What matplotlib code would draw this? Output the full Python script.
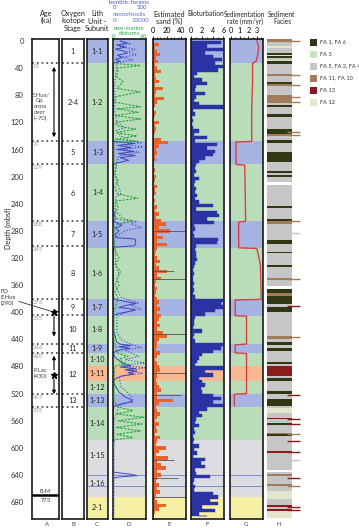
import matplotlib
matplotlib.use('Agg')
import matplotlib.pyplot as plt
import numpy as np
from matplotlib.ticker import MultipleLocator
from matplotlib.patches import Rectangle

plt.rcParams['font.family'] = ['Lato', 'DejaVu Sans']

# ---- data ----
unit_labels = ['1-1', '1-2', '1-3', '1-4', '1-5', '1-6', '1-7', '1-8', '1-9', '1-10',
               '1-11', '1-12', '1-13', '1-14', '1-15', '1-16', '2-1']
unit_top = [-3, 32, 148, 182, 266, 305, 381, 405, 447, 460, 479, 502, 520, 540, 588, 638, 673]
unit_bot = [32, 148, 182, 266, 305, 381, 405, 447, 460, 479, 502, 520, 540, 588, 638, 673, 705]
unit_kind = ['b', 'g', 'b', 'g', 'b', 'g', 'b', 'g', 'b', 'g', 'o', 'g', 'b', 'g', 'x', 'x', 'y']
unit_label_depth = [16, 90, 165, 224, 285, 343, 393, 426, 453, 470, 490, 511, 530, 564, 612, 652, 688]
thin_blue_depth = [641, 657]

age_depth = [32, 148, 182, 266, 303, 381, 404, 447, 460, 521, 540]
age_label = ['13', '70', '129', '188', '245', '276', '335', '366', '420', '467', '535']
stage_label = ['1', '2-4', '5', '6', '7', '8', '9', '10', '11', '12', '13']
stage_depth = [16, 90, 165, 225, 285, 343, 393, 426, 453, 492, 530]

benthic_depth = [0, 3, 6, 9, 12, 15, 18, 21, 24, 27, 30, 32, 40, 100, 146,
                 148, 151, 154, 157, 160, 163, 166, 169, 172, 176, 180, 182, 200, 250, 262, 266,
                 268, 272, 276, 280, 286, 290, 292, 298, 302, 304, 306, 340, 378,
                 381, 384, 387, 390, 393, 396, 399, 402, 405, 425, 444,
                 447, 449, 451, 453, 455, 458, 460, 466, 470, 475,
                 479, 481, 483, 485, 487, 489, 491, 494, 497, 500, 502, 506, 512, 518,
                 521, 525, 528, 532, 535, 538, 540, 560, 600, 636, 639, 641, 643, 645, 690, 700]
benthic_val = [120, 230, 60, 210, 40, 190, 230, 70, 160, 40, 120, 10, 5, 5, 5,
               20, 360, 80, 300, 60, 350, 90, 370, 120, 260, 60, 10, 5, 10, 40, 10,
               60, 150, 40, 100, 30, 60, 370, 380, 360, 40, 5, 5, 10,
               30, 200, 380, 220, 100, 370, 260, 80, 10, 5, 60,
               120, 300, 100, 280, 150, 40, 10, 30, 80, 150,
               300, 120, 380, 200, 400, 250, 350, 150, 60, 20, 10, 20, 60, 100,
               150, 200, 280, 330, 150, 40, 10, 5, 5, 5, 300, 400, 100, 5, 5, 5]

nanno_depth = [0, 4, 8, 12, 16, 20, 24, 28, 32, 60, 100, 120, 128, 132, 140, 146,
               150, 153, 156, 160, 164, 170, 178, 200, 225, 230, 250, 262, 266, 270, 275, 280,
               290, 300, 330, 345, 360, 378, 382, 386, 390, 395, 400, 405, 430, 440, 447,
               452, 456, 465, 470, 475, 478, 482, 486, 490, 495, 510, 520, 530, 538,
               560, 620, 700]
nanno_val = [4000, 9000, 3000, 11000, 7000, 12000, 5000, 10000, 2000, 1000, 800, 2000, 6000,
             1500, 4000, 8000, 14000, 6000, 15000, 5000, 13000, 3000, 2000, 1000, 4000, 1500,
             1000, 5000, 12000, 9000, 14000, 6000, 1000, 800, 1500, 3000, 1000, 4000, 8000,
             13000, 9000, 14000, 7000, 2000, 2000, 4000, 9000, 14000, 6000, 13000, 6000,
             16000, 4000, 16000, 8000, 15000, 3000, 4000, 8000, 10000, 3000, 500, 500, 500]

diatom_depth = [0, 30, 33, 36, 40, 45, 52, 60, 70, 75, 82, 90, 97, 100, 105, 110, 115, 120,
                125, 130, 135, 140, 145, 148, 150, 180, 185, 195, 205, 215, 225, 232, 236,
                245, 255, 262, 266, 270, 275, 300, 310, 320, 330, 340, 350, 360, 370, 380,
                400, 440, 460, 465, 470, 475, 480, 530, 540, 545, 550, 555, 560, 565, 570,
                575, 580, 585, 588, 600, 700]
diatom_val = [0, 0, 2, 55, 8, 10, 6, 20, 8, 54, 6, 3, 55, 8, 50, 5, 55, 4, 8, 45, 6, 48, 4,
              50, 2, 2, 6, 3, 10, 4, 8, 50, 5, 10, 4, 6, 40, 10, 2, 2, 5, 12, 4, 15, 8, 12,
              4, 10, 2, 2, 8, 30, 10, 25, 3, 2, 10, 40, 8, 62, 10, 58, 6, 55, 8, 40, 3, 0, 0]

sand_depth = list(range(0, 705, 5))
sand_pct = [2, 8, 3, 6, 10, 4, 7,
            3, 5, 12, 3, 4, 9, 3, 14, 4, 3, 16, 5, 3, 2, 4, 3, 2, 8, 3, 4, 3, 2, 12,
            22, 8, 4, 6, 3, 4, 2,
            2, 3, 2, 4, 3, 2, 6, 3, 4, 2, 3, 2, 5, 3, 8, 4, 12,
            18, 8, 24, 6, 14, 5, 20,
            6, 4, 3, 5, 10, 4, 8, 20, 6, 12, 4, 3, 5, 4, 3, 6,
            8, 5, 10, 6,
            12, 8, 5, 10, 6, 14, 20, 8, 5,
            6, 4, 10, 5, 3, 6,
            8, 10, 5, 6, 4,
            6, 8, 12, 5,
            6, 28, 8, 4,
            5, 10, 6, 3, 8, 4, 6, 3, 10,
            6, 4, 18, 8, 4, 22, 6, 12, 18, 6,
            12, 6, 4, 8, 5, 10, 4,
            3, 6, 18, 8, 3, 2]
sand_line_depth = [280, 339, 351, 432, 489, 522, 618, 644, 672]
sand_line_val = [47, 30, 47, 47, 46, 40, 30, 35, 47]

biot_depth = list(range(0, 705, 5))
biot_val = [5.5, 3, 6, 2.5, 4, 5.8, 4.5,
            5.9, 5, 1.2, 0.5, 2, 3, 1, 0.8, 2.5, 1, 0.5, 1.5, 6, 0.3, 0.8, 0.2, 0.3, 0.2, 0.3,
            1.5, 0.5, 3, 0.8,
            4.8, 3, 4.5, 4, 2.5, 1.5, 1,
            0.8, 1, 0.5, 1.5, 0.8, 0.6, 1, 0.8, 1.2, 0.7, 1.5, 4, 1, 4.8, 5.2, 3, 4.2,
            0.5, 0.8, 0.4, 0.5, 5, 4.8, 1,
            0.8, 1, 0.9, 1.2, 0.8, 0.5, 0.3, 0.5, 0.4, 0.3, 0.5, 0.3, 0.6, 0.4, 0.8, 6,
            5.5, 6, 4.5, 2.5,
            0.8, 0.5, 0.6, 0.4, 2, 0.5, 0.3, 0.8, 6,
            5.5, 4, 2,
            1.5, 1.2, 0.8,
            6, 2.5, 4, 1.5, 2,
            2.5, 1.8, 2, 4,
            5.5, 4, 6, 3,
            1.5, 2, 1, 0.8, 1.5, 0.5, 0.8, 0.3, 0.5,
            0.3, 1.5, 0.5, 1.2, 0.4, 2.5, 1.8, 2.6, 0.8, 1,
            3.5, 0.5, 0.4, 0.8, 0.5, 4, 5,
            3.5, 5, 2, 4.5, 1.5, 3]

sed_depth = [0, 8, 20, 30, 33, 60, 100, 140, 148, 149, 182, 183, 266, 267, 305, 306, 330,
             381, 382, 405, 406, 447, 448, 460, 461, 520, 521, 538]
sed_rate = [3.0, 3.2, 3.1, 2.9, 2.5, 2.5, 2.4, 2.4, 2.4, 0.6, 0.6, 1.6, 1.7, 0.9, 0.9, 3.0,
            3.4, 3.5, 0.5, 0.5, 1.8, 1.8, 0.5, 0.5, 1.8, 1.8, 0.4, 0.4]

fac_top = [-3, 2, 8, 11, 17, 20, 22, 25, 28, 30, 34, 48, 51, 60, 63, 66, 80, 92, 94, 97,
           108, 112, 130, 137, 140, 146, 150, 163, 178, 191, 194, 198, 200, 208, 213, 244,
           247, 262, 266, 270, 294, 300, 311, 313, 330, 333, 349, 352, 362, 366, 372, 376,
           388, 392, 400, 435, 439, 444, 448, 453, 457, 474, 477, 480, 494, 497, 501, 516,
           520, 528, 538, 541, 548, 556, 558, 564, 567, 578, 580, 583, 605, 607, 632, 635,
           639, 642, 654, 657, 664, 676, 685, 688, 690, 693]
fac_bot = fac_top[1:] + [703]
fac_code = ['FA11', 'FA5', 'FA12', 'FA5', 'FA1', 'FA12', 'FA1', 'FA5', 'FA3', 'FA1', 'FA5',
            'FA11', 'FA5', 'FA1', 'FA11', 'FA5', 'FA11', 'FA5', 'FA1', 'FA5', 'FA1', 'FA5',
            'FA1', 'FA11', 'FA5', 'FA1', 'FA5', 'FA1', 'FA5', 'FA1', 'FA5', 'FA1', 'FA5',
            'W', 'FA5', 'FA1', 'FA5', 'FA1', 'FA11', 'FA5', 'FA1', 'FA5', 'FA1', 'FA5',
            'FA1', 'FA5', 'FA11', 'FA5', 'W', 'FA1', 'FA11', 'FA1', 'FA5', 'FA1', 'FA5',
            'FA11', 'FA5', 'FA1', 'FA5', 'FA1', 'FA5', 'FA1', 'FA5', 'FA13', 'FA5', 'FA1',
            'FA5', 'FA1', 'FA5', 'FA1', 'FA5', 'FA12', 'FA5', 'FA13', 'FA5', 'FA1', 'FA5',
            'FA11', 'FA1', 'FA5', 'FA13', 'FA5', 'W', 'FA5', 'FA11', 'FA5', 'FA11', 'FA5',
            'FA12', 'FA5', 'FA13', 'FA5', 'FA13', 'FA12']
ext_depth = [0, 50, 65, 83, 90, 134, 138, 266, 283, 351, 391, 437, 522, 557, 565, 579,
             590, 606, 618, 644, 656, 687, 692]
ext_code = ['FA11', 'FA11', 'FA11', 'FA11', 'FA11', 'FA11', 'FA11', 'FA11', 'FA5', 'FA11',
            'FA13', 'FA11', 'FA13', 'FA13', 'FA13', 'FA11', 'FA13', 'FA13', 'FA5', 'FA13',
            'FA11', 'FA13', 'FA13']

legend_codes = ['FA1', 'FA3', 'FA5', 'FA11', 'FA13', 'FA12']
legend_labels = ['FA 1, FA 6', 'FA 3', 'FA 5, FA 2, FA 4', 'FA 11, FA 10', 'FA 13', 'FA 12']

# ---- styles ----
unit_colors = {'b': '#a6b3e3', 'g': '#b9ddb9', 'o': '#f8b892', 'x': '#dcdde1', 'y': '#f6f0a4'}
fac_colors = {'FA1': '#2f3813', 'FA3': '#c8e4c3', 'FA5': '#c6c6c6', 'FA11': '#a27c58',
              'FA13': '#8c1c1c', 'FA12': '#e5e5cb', 'W': '#ffffff'}
blue = '#3b47bd'
W, H = 359, 528
FS = 5.2
SM = 4.4

fig = plt.figure(figsize=(W / 100, H / 100), dpi=100)


def px_axes(x0, x1, y0=39, y1=519):
    return fig.add_axes([x0 / W, 1 - y1 / H, (x1 - x0) / W, (y1 - y0) / H])


def frame(ax):
    for s in ax.spines.values():
        s.set_linewidth(1.2)
        s.set_color('#1a1a1a')
    ax.set_ylim(705, -3)


def backdrop(ax):
    for t, b, k in zip(unit_top, unit_bot, unit_kind):
        ax.axhspan(t, b, color=unit_colors[k], lw=0, zorder=0)
    for d in thin_blue_depth:
        ax.axhspan(d - 1.2, d + 1.2, color='#7f91d6', lw=0, zorder=0.5)


# A: age
ax_a = px_axes(32, 59)
frame(ax_a)
ax_a.set_xlim(0, 27)
ax_a.set_xticks([])
ax_a.set_yticks(range(0, 681, 40))
ax_a.tick_params(axis='y', length=0, pad=6, labelsize=FS + 0.3, labelcolor='#333333')
for d, lab in zip(age_depth, age_label):
    ax_a.axhline(d, color='#555555', ls=':', lw=1.3)
    ax_a.text(1, d + 5, lab, fontsize=4.2, color='#999999', va='center')
ax_a.text(8, 97, 'E.Hux/\nGp.\ncross\nover\n(~70)', fontsize=4.2, ha='center', va='center',
          color='#444444', linespacing=1.2)
ax_a.annotate('', xy=(22, 146), xytext=(22, 34),
              arrowprops=dict(arrowstyle='<|-|>', color='black', lw=0.8, mutation_scale=5))
ax_a.plot([22], [400], marker='*', color='black', ms=5)
ax_a.annotate('', xy=(22, 440), xytext=(22, 402),
              arrowprops=dict(arrowstyle='-|>', color='black', lw=0.8, mutation_scale=5))
ax_a.plot([22], [492], marker='*', color='black', ms=5)
ax_a.annotate('', xy=(22, 460), xytext=(22, 489),
              arrowprops=dict(arrowstyle='-|>', color='black', lw=0.8, mutation_scale=5))
ax_a.annotate('', xy=(22, 525), xytext=(22, 495),
              arrowprops=dict(arrowstyle='-|>', color='black', lw=0.8, mutation_scale=5))
ax_a.text(8, 490, 'P.Lac\n(430)', fontsize=4.2, ha='center', va='center', color='#444444')
ax_a.axhline(670, color='black', lw=1.8)
ax_a.text(13.5, 664, 'B-M', fontsize=4.2, ha='center', va='center', color='#333333')
ax_a.text(13.5, 678, '773', fontsize=4.2, ha='center', va='center', color='#333333')
ax_a.annotate('FO\nE.Hux\n(290)', xy=(22, 400), xytext=(-31.5, 379), fontsize=4.2,
              ha='left', va='center', color='#333333', annotation_clip=False,
              arrowprops=dict(arrowstyle='-', color='#333333', lw=0.6,
                              shrinkA=0, shrinkB=2, relpos=(1, 0.35)))

# B: stage
ax_b = px_axes(62, 84)
frame(ax_b)
ax_b.set_xlim(0, 22)
ax_b.set_xticks([])
ax_b.set_yticks([])
for d in age_depth:
    ax_b.axhline(d, color='#555555', ls=':', lw=1.3)
for d, lab in zip(stage_depth, stage_label):
    ax_b.text(11, d, lab, fontsize=FS, ha='center', va='center', color='#222222')

# C: lith subunits
ax_c = px_axes(87, 108)
frame(ax_c)
backdrop(ax_c)
ax_c.set_xlim(0, 21)
ax_c.set_xticks([])
ax_c.set_yticks([])
for d, lab in zip(unit_label_depth, unit_labels):
    ax_c.text(10.5, d, lab, fontsize=FS, ha='center', va='center', color='#222222')

# D: microfossils
ax_d = px_axes(113, 146)
frame(ax_d)
backdrop(ax_d)
ax_d.set_xlim(0, 550)
ax_d.set_xticks([])
ax_d.set_yticks([])
ax_d.plot(benthic_val, benthic_depth, color=blue, lw=0.7)
ax_d2 = ax_d.twiny()
ax_d2.set_xlim(0, 16500)
ax_d2.set_xticks([])
ax_d2.plot(nanno_val, nanno_depth, color=blue, lw=0.8, ls=':')
ax_d3 = ax_d.twiny()
ax_d3.set_xlim(0, 66)
ax_d3.set_xticks([])
ax_d3.plot(diatom_val, diatom_depth, color='#27a33a', lw=0.8, ls=(0, (2, 1.2)))
for a in (ax_d2, ax_d3):
    a.set_ylim(705, -3)
    for s in a.spines.values():
        s.set_visible(False)

# E: sand
ax_e = px_axes(153, 186)
frame(ax_e)
backdrop(ax_e)
ax_e.set_xlim(0, 47)
ax_e.fill_betweenx(sand_depth, 0, sand_pct, step='mid', color='#e8622a', lw=0, zorder=2)
ax_e.hlines(sand_line_depth, 0, sand_line_val, color='#555555', lw=0.6, zorder=2)
ax_e.set_xticks([0, 20, 40])
ax_e.xaxis.set_minor_locator(MultipleLocator(5))

# F: bioturbation
ax_f = px_axes(191, 224)
frame(ax_f)
backdrop(ax_f)
ax_f.set_xlim(0, 6.1)
ax_f.fill_betweenx(biot_depth, 0, biot_val, step='post', color='#2a33a3', lw=0.3, zorder=2)
ax_f.set_xticks([0, 2, 4, 6])
ax_f.xaxis.set_minor_locator(MultipleLocator(1))

# G: sedimentation rate
ax_g = px_axes(230, 263)
frame(ax_g)
backdrop(ax_g)
ax_g.set_xlim(-0.1, 3.7)
ax_g.plot(sed_rate, sed_depth, color='#d8403f', lw=1.0, zorder=3)
ax_g.set_xticks([0, 1, 2, 3])
ax_g.xaxis.set_minor_locator(MultipleLocator(0.5))

for a in (ax_e, ax_f, ax_g):
    a.set_yticks([])
    a.xaxis.tick_top()
    a.tick_params(axis='x', which='major', length=2.5, width=0.6, pad=1, labelsize=FS)
    a.tick_params(axis='x', which='minor', length=1.5, width=0.5)

# H: facies
ax_h = px_axes(267, 305)
ax_h.set_xlim(0, 38)
ax_h.set_ylim(705, -3)
ax_h.axis('off')
ax_h.barh([(t + b) / 2 for t, b in zip(fac_top, fac_bot)],
          [25] * len(fac_top), height=[b - t for t, b in zip(fac_top, fac_bot)],
          left=0, color=[fac_colors[c] for c in fac_code], lw=0)
ax_h.hlines(ext_depth, 20, 33, colors=[fac_colors[c] for c in ext_code], lw=1.0)

# legend
ax_l = fig.add_axes([300 / W, 1 - 110 / H, 59 / W, 75 / H])
ax_l.set_xlim(300, 359)
ax_l.set_ylim(110, 35)
ax_l.axis('off')
for i, (c, lab) in enumerate(zip(legend_codes, legend_labels)):
    y = 42 + i * 12
    ax_l.add_patch(Rectangle((310, y - 3.5), 7, 7, color=fac_colors[c], lw=0))
    ax_l.text(320, y, lab, fontsize=4.1, va='center', color='#333333')


# headers
def ftext(x, y, s, **kw):
    kw.setdefault('fontsize', FS)
    kw.setdefault('ha', 'center')
    kw.setdefault('va', 'center')
    kw.setdefault('color', '#222222')
    fig.text(x / W, 1 - y / H, s, **kw)


ftext(46, 17, 'Age\n(ka)', linespacing=1.1)
ftext(73, 21, 'Oxygen\nIsotope\nStage', linespacing=1.1)
ftext(97, 21, 'Lith\nUnit -\nSubunit', linespacing=1.1)
ftext(169, 18, 'Estimated\nsand (%)', linespacing=1.1)
ftext(206, 14, 'Bioturbation', fontsize=4.8)
ftext(245, 18, 'Sedimentation\nrate (mm/yr)', linespacing=1.1, fontsize=4.7)
ftext(282, 18, 'Sediment\nFacies', linespacing=1.1, fontsize=4.8)
ftext(129, 2, 'benthic forams', color='#4a58c0', fontsize=SM)
ftext(115, 7.5, '0', color='#4a58c0', fontsize=SM)
ftext(142, 7.5, '500', color='#4a58c0', fontsize=SM)
ftext(129, 15, 'nannofossils', color='#5a6ad0', fontsize=SM)
ftext(115, 20.5, '0', color='#5a6ad0', fontsize=SM)
ftext(140, 20.5, '15000', color='#5a6ad0', fontsize=SM)
ftext(129, 28, 'non-marine', color='#2fa84a', fontsize=SM)
ftext(129, 33.5, 'diatoms', color='#2fa84a', fontsize=SM)
ftext(114, 37, '0', color='#2fa84a', fontsize=SM)
ftext(143, 37, '60', color='#2fa84a', fontsize=SM)
ftext(8, 228, 'Depth (mbsf)', rotation=90)
for x, s in zip([47, 73, 97, 129, 169, 207, 246, 279], 'ABCDEFGH'):
    ftext(x, 525, s, fontsize=SM, color='#444444')

fig.savefig('out.png', dpi=100)
